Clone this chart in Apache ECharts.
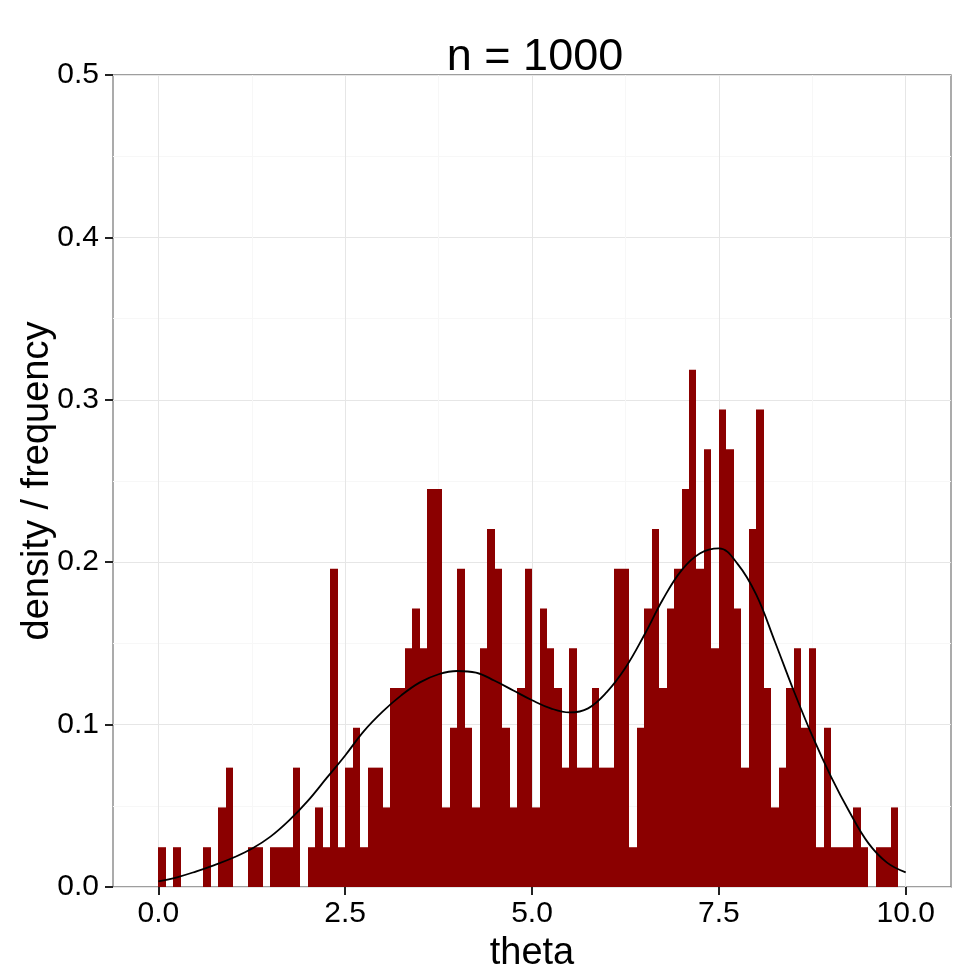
<!DOCTYPE html>
<html lang="en">
<head>
  <meta charset="utf-8">
  <script src="https://cdn.jsdelivr.net/npm/echarts@6.0.0/dist/echarts.min.js"></script>
</head>
<body style="margin: 0">
  <div id="container" style="width: 980px; height: 980px"></div>
  <script type="text/javascript">
    // histogram bins: width 0.1 starting at 0, heights are densities
    var binStart = 0;
    var binWidth = 0.1;
    var binDensity = [
      0.0245, 0, 0.0245, 0, 0, 0, 0.0245, 0, 0.049, 0.0735,
      0, 0, 0.0245, 0.0245, 0, 0.0245, 0.0245, 0.0245, 0.0735, 0,
      0.0245, 0.049, 0.0245, 0.196, 0.0245, 0.0735, 0.098, 0.0245, 0.0735, 0.0735,
      0.049, 0.1225, 0.1225, 0.147, 0.1715, 0.147, 0.245, 0.245, 0.049, 0.098,
      0.196, 0.098, 0.049, 0.147, 0.2205, 0.196, 0.098, 0.049, 0.1225, 0.196,
      0.049, 0.1715, 0.147, 0.1225, 0.0735, 0.147, 0.0735, 0.0735, 0.1225, 0.0735,
      0.0735, 0.196, 0.196, 0.0245, 0.098, 0.1715, 0.2205, 0.1225, 0.1715, 0.196,
      0.245, 0.3185, 0.196, 0.2695, 0.147, 0.294, 0.2695, 0.1715, 0.0735, 0.2205,
      0.294, 0.1225, 0.049, 0.0735, 0.1225, 0.147, 0.098, 0.147, 0.0245, 0.098,
      0.0245, 0.0245, 0.0245, 0.049, 0.0245, 0, 0.0245, 0.0245, 0.049, 0
    ];

    // density curve
    var curveX = [0, 0.25, 0.5, 0.75, 1, 1.25, 1.5, 1.75, 2, 2.25, 2.5, 2.75, 3, 3.25, 3.5, 3.75,
      4, 4.25, 4.5, 4.75, 5, 5.25, 5.5, 5.75, 6, 6.25, 6.5, 6.75, 7, 7.25, 7.5, 7.75,
      8, 8.25, 8.5, 8.75, 9, 9.25, 9.5, 9.75, 10];
    var curveY = [0.0035, 0.006, 0.0095, 0.0135, 0.018, 0.0235, 0.031, 0.041, 0.053, 0.067, 0.081, 0.096,
      0.108, 0.118, 0.126, 0.131, 0.133, 0.132, 0.127, 0.121, 0.115, 0.110, 0.1075, 0.110,
      0.120, 0.135, 0.155, 0.177, 0.195, 0.2055, 0.2085, 0.199, 0.180, 0.151, 0.121, 0.093,
      0.068, 0.046, 0.027, 0.015, 0.009];

    var xTicks = [0, 2.5, 5, 7.5, 10];

    var font = '"Liberation Sans", Arial, sans-serif';

    var barData = [];
    for (var i = 0; i < binDensity.length; i++) {
      if (binDensity[i] > 0) {
        barData.push([binStart + i * binWidth, binStart + (i + 1) * binWidth, binDensity[i]]);
      }
    }
    var lineData = curveX.map(function (x, i) { return [x, curveY[i]]; });

    var dom = document.getElementById('container');
    var myChart = echarts.init(dom, null, { renderer: 'canvas' });

    var option = {
      animation: false,
      backgroundColor: '#fff',
      title: {
        text: 'n = 1000',
        left: 530,
        textAlign: 'center',
        top: 30,
        textStyle: { fontFamily: font, fontSize: 45, fontWeight: 'normal', color: '#000' }
      },
      grid: {
        left: 113, right: 29, top: 75, bottom: 93,
        show: true,
        borderColor: '#7f7f7f',
        borderWidth: 1.3
      },
      xAxis: {
        type: 'value',
        min: -0.607,
        max: 10.606,
        minInterval: 2.5,
        maxInterval: 2.5,
        name: 'theta',
        nameLocation: 'middle',
        nameGap: 48,
        nameMoveOverlap: false,
        nameTextStyle: { fontFamily: font, fontSize: 38, color: '#000' },
        axisLine: { show: false, onZero: false },
        axisTick: { show: true, length: 8, customValues: xTicks, lineStyle: { color: '#222', width: 2 } },
        axisLabel: {
          customValues: xTicks,
          fontFamily: font, fontSize: 30, color: '#000', margin: 12,
          formatter: function (v) { return v.toFixed(1); }
        },
        splitLine: { show: true, lineStyle: { color: '#e6e6e6', width: 1 } },
        minorTick: { show: false, splitNumber: 2 },
        minorSplitLine: { show: true, lineStyle: { color: '#f7f7f7', width: 1 } }
      },
      yAxis: {
        type: 'value',
        min: 0,
        max: 0.5,
        interval: 0.1,
        name: 'density / frequency',
        nameLocation: 'middle',
        nameGap: 56,
        nameMoveOverlap: false,
        nameTextStyle: { fontFamily: font, fontSize: 38, color: '#000' },
        axisLine: { show: false, onZero: false },
        axisTick: { show: true, length: 8, lineStyle: { color: '#222', width: 2 } },
        axisLabel: {
          fontFamily: font, fontSize: 30, color: '#000', margin: 14,
          formatter: function (v) { return v.toFixed(1); }
        },
        splitLine: { show: true, lineStyle: { color: '#e6e6e6', width: 1 } },
        minorTick: { show: false, splitNumber: 2 },
        minorSplitLine: { show: true, lineStyle: { color: '#f7f7f7', width: 1 } }
      },
      series: [
        {
          type: 'custom',
          name: 'histogram',
          data: barData,
          encode: { x: [0, 1], y: 2 },
          z: 2,
          renderItem: function (params, api) {
            var topLeft = api.coord([api.value(0), api.value(2)]);
            var bottomRight = api.coord([api.value(1), 0]);
            var x0 = Math.round(topLeft[0]);
            var x1 = Math.round(bottomRight[0]);
            return {
              type: 'rect',
              shape: {
                x: x0,
                y: topLeft[1],
                width: x1 - x0,
                height: bottomRight[1] - topLeft[1]
              },
              style: { fill: '#8b0000' }
            };
          }
        },
        {
          type: 'line',
          name: 'density',
          data: lineData,
          smooth: 0.4,
          showSymbol: false,
          z: 3,
          lineStyle: { color: '#000', width: 1.8 }
        }
      ]
    };

    myChart.setOption(option);
    window.addEventListener('resize', myChart.resize);
  </script>
</body>
</html>
